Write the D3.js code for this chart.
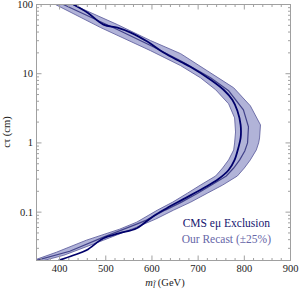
<!DOCTYPE html>
<html><head><meta charset="utf-8">
<script src="https://cdn.jsdelivr.net/npm/d3@7"></script>
<style>body{margin:0;background:#fff}svg{display:block}text{font-family:"Liberation Serif","DejaVu Serif",serif}</style>
</head><body><svg id="c" width="300" height="293"></svg>
<script>
// mass (GeV), c*tau (cm)
const cmsCurve = [[430,100],[460,76.6],[495,51.3],[525,46.4],[554,39.3],[590,29.1],[625,20.2],[662,14.9],[683,12.6],[727,8.18],[755,5.86],[774,4.20],[785,2.91],[792,1.82],[792,1.18],[787,0.847],[779,0.568],[766,0.406],[744,0.301],[712,0.223],[668,0.154],[632,0.114],[603,0.0875],[567,0.0586],[530,0.0496],[495,0.0420],[458,0.0281],[430,0.0238],[398,0.0201]];
const recastCentral = [[408,100],[525,43.5],[597,25.5],[662,15.4],[727,8.74],[766,5.67],[798,3.01],[809,1.71],[807,1.00],[801,0.766],[790,0.568],[777,0.434],[761,0.333],[729,0.246],[699,0.188],[664,0.1396],[629,0.107],[588,0.0766],[567,0.0670],[495,0.0435],[422,0.0272],[350,0.0201]];
const recastHigh = [[428,100],[525,51.3],[597,30.1],[662,19.5],[720,11.0],[777,6.26],[813,3.44],[835,1.82],[833,1.18],[831,1.00],[826,0.792],[813,0.568],[800,0.434],[785,0.333],[753,0.246],[720,0.188],[684,0.1396],[647,0.107],[608,0.0793],[567,0.0607],[495,0.0393],[409,0.0238],[350,0.0188]];
const recastLow = [[391,100],[489,46.4],[597,21.5],[662,13.1],[705,8.74],[738,5.86],[766,3.67],[779,2.30],[781,1.44],[779,1.00],[777,0.792],[766,0.568],[753,0.434],[738,0.333],[705,0.246],[677,0.188],[645,0.1396],[612,0.107],[567,0.0716],[530,0.0567],[458,0.0393],[393,0.0263],[350,0.0208]];
const xTicks = [400,500,600,700,800,900];
const yTicks = [0.1,1,10,100];
const yTickLabels = ["0.1","1","10","100"];
const legendLabels = ["CMS e\u03BC Exclusion","Our Recast (\u00B125%)"];

const svg = d3.select("#c");
const L=36.5, R=290.5, T=4.5, B=260.5;
const x = d3.scaleLinear().domain([350,900]).range([L,R]);
const y = d3.scaleLog().domain([0.02,100]).range([B,T]);

svg.append("defs").append("clipPath").attr("id","clip").append("rect")
  .attr("x",L).attr("y",T).attr("width",R-L).attr("height",B-T);

const lin = d3.line().x(d=>x(d[0])).y(d=>y(d[1]));
const smooth = d3.line().x(d=>x(d[0])).y(d=>y(d[1])).curve(d3.curveCatmullRom.alpha(0.5));
const g = svg.append("g").attr("clip-path","url(#clip)");
const band = recastHigh.concat(recastLow.slice().reverse());
g.append("path").attr("d", lin(band) + "Z")
  .attr("fill","#b1b3d8").attr("stroke","none");
g.append("path").attr("d",lin(recastHigh)).attr("fill","none").attr("stroke","#6464a2").attr("stroke-width",0.9);
g.append("path").attr("d",lin(recastLow)).attr("fill","none").attr("stroke","#6464a2").attr("stroke-width",0.9);
g.append("path").attr("d",lin(recastCentral)).attr("fill","none").attr("stroke","#42428a").attr("stroke-width",1.2);
g.append("path").attr("d",smooth(cmsCurve)).attr("fill","none").attr("stroke","#00006b").attr("stroke-width",1.8);

// frame
const frameColor="#a0a0a0";
svg.append("rect").attr("x",L).attr("y",T).attr("width",R-L).attr("height",B-T)
  .attr("fill","none").attr("stroke",frameColor).attr("stroke-width",1);

// ticks
const xMinor = d3.range(360,900,20).filter(v=>xTicks.indexOf(v)<0);
const tk = svg.append("g").attr("stroke",frameColor).attr("stroke-width",1);
xTicks.forEach(v=>{
  tk.append("line").attr("x1",x(v)).attr("x2",x(v)).attr("y1",B).attr("y2",B-5);
  tk.append("line").attr("x1",x(v)).attr("x2",x(v)).attr("y1",T).attr("y2",T+5);
});
xMinor.forEach(v=>{
  tk.append("line").attr("x1",x(v)).attr("x2",x(v)).attr("y1",B).attr("y2",B-2.5);
  tk.append("line").attr("x1",x(v)).attr("x2",x(v)).attr("y1",T).attr("y2",T+2.5);
});
const yMinor=[];
[0.01,0.1,1,10].forEach(d=>{for(let k=2;k<=9;k++){const v=d*k; if(v>=0.02&&v<100) yMinor.push(v);}});
yTicks.forEach(v=>{
  tk.append("line").attr("y1",y(v)).attr("y2",y(v)).attr("x1",L).attr("x2",L+5);
  tk.append("line").attr("y1",y(v)).attr("y2",y(v)).attr("x1",R).attr("x2",R-5);
});
yMinor.forEach(v=>{
  tk.append("line").attr("y1",y(v)).attr("y2",y(v)).attr("x1",L).attr("x2",L+2.5);
  tk.append("line").attr("y1",y(v)).attr("y2",y(v)).attr("x1",R).attr("x2",R-2.5);
});

// labels
xTicks.forEach(v=>{
  svg.append("text").attr("x",x(v)).attr("y",272).attr("text-anchor","middle")
    .attr("font-size",10.5).attr("fill","#222").text(v);
});
yTicks.forEach((v,i)=>{
  svg.append("text").attr("x",33).attr("y",y(v)+3.5).attr("text-anchor","end")
    .attr("font-size",10.5).attr("fill","#222").text(yTickLabels[i]);
});
svg.append("text").attr("transform","translate(10,132) rotate(-90)").attr("text-anchor","middle")
  .attr("font-size",10.5).attr("fill","#222").text("c\u03C4 (cm)");
const xt = svg.append("text").attr("x",165).attr("y",286).attr("text-anchor","middle").attr("font-size",10.5).attr("fill","#222");
xt.append("tspan").attr("font-style","italic").text("m");
xt.append("tspan").attr("font-style","italic").attr("font-size",8).attr("dy",2).text("l\u0303");
xt.append("tspan").attr("dy",-2).text(" (GeV)");

svg.append("text").attr("x",270).attr("y",227).attr("text-anchor","end").attr("font-size",11.5)
  .attr("fill","#14146e").text(legendLabels[0]);
svg.append("text").attr("x",271).attr("y",243).attr("text-anchor","end").attr("font-size",11.5)
  .attr("fill","#6666a8").text(legendLabels[1]);
</script></body></html>
